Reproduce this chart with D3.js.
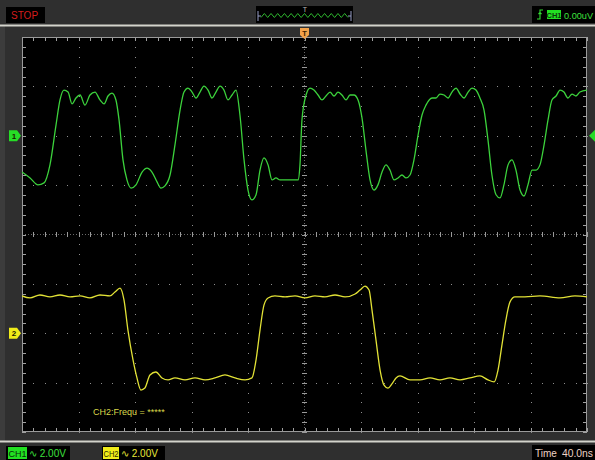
<!DOCTYPE html>
<html>
<head>
<meta charset="utf-8">
<script src="https://cdn.jsdelivr.net/npm/d3@7"></script>
<style>
  body { margin: 0; background: #2e2e2e; }
  svg { display: block; font-family: "Liberation Sans", Arial, sans-serif; }
</style>
</head>
<body>
<svg id="scope" width="595" height="460"></svg>
<script>
// ---- Channel 1 samples: time (ns) and voltage (V) ----
const ch1Time = [-200.0,-194.3,-188.7,-184.4,-180.2,-175.9,-173.1,-170.3,-167.4,-164.6,-161.8,-158.9,-155.4,-151.9,-148.3,-144.8,-141.9,-139.1,-136.3,-133.5,-131.3,-128.5,-125.7,-122.8,-119.3,-115.0,-111.5,-108.0,-104.4,-101.6,-98.8,-95.2,-91.7,-88.1,-85.3,-82.5,-79.6,-76.8,-74.0,-71.2,-68.3,-65.5,-62.7,-59.8,-57.0,-54.2,-51.3,-48.5,-45.7,-42.8,-40.0,-37.2,-34.3,-31.5,-28.7,-25.8,-23.0,-20.2,-17.3,-10.3,-4.6,-3.2,-1.8,1.1,3.9,6.7,9.6,12.4,15.2,18.1,20.9,23.7,26.5,29.4,32.2,35.0,37.9,40.7,43.5,46.4,49.2,52.0,54.9,57.7,60.5,63.4,66.2,69.0,71.9,74.7,77.5,80.4,83.2,86.0,90.3,93.1,95.9,98.8,101.6,104.4,107.3,110.1,112.9,115.8,118.6,121.4,124.2,127.1,129.9,132.7,135.6,138.4,141.2,144.1,146.9,149.7,152.6,155.4,158.2,161.1,163.9,166.7,169.6,172.4,175.2,178.1,180.9,183.7,186.5,189.4,192.2,195.0,200.0];
const ch1Volts = [-1.47,-1.71,-1.99,-1.91,-1.18,0.44,1.45,1.85,1.77,1.29,1.53,1.65,1.24,1.65,1.77,1.45,1.29,1.61,1.73,1.45,0.64,-0.98,-1.79,-2.12,-1.99,-1.47,-1.31,-1.47,-1.87,-2.12,-2.03,-1.59,-0.37,1.04,1.77,1.93,1.77,1.53,1.77,2.01,1.85,1.53,1.77,2.01,1.85,1.45,1.65,1.85,0.84,-0.98,-2.20,-2.60,-2.39,-1.39,-0.90,-1.18,-1.79,-1.71,-1.79,-1.79,-1.79,-1.18,0.64,1.65,1.93,1.85,1.65,1.45,1.61,1.77,1.61,1.77,1.65,1.45,1.65,1.65,1.45,0.72,-0.58,-1.79,-2.20,-1.99,-1.47,-1.18,-1.39,-1.79,-1.71,-1.59,-1.71,-1.59,-0.98,0.03,0.84,1.24,1.53,1.53,1.69,1.65,1.53,1.77,1.93,1.69,1.53,1.77,1.93,1.85,1.53,1.04,-0.17,-1.59,-2.39,-2.52,-1.99,-1.18,-0.98,-1.39,-2.20,-2.44,-1.99,-1.39,-1.39,-1.18,-0.37,0.64,1.45,1.61,1.85,1.77,1.53,1.69,1.61,1.77,1.85];

// ---- Channel 2 samples: time (ns) and voltage (V) ----
const ch2Time = [-200.0,-194.3,-187.3,-180.2,-173.1,-166.0,-158.9,-151.9,-144.8,-137.7,-134.2,-130.6,-127.8,-125.0,-121.4,-118.6,-115.8,-113.0,-109.4,-105.2,-100.9,-96.6,-91.7,-84.6,-77.5,-70.4,-63.4,-56.3,-49.2,-42.1,-37.2,-34.3,-31.5,-28.7,-25.8,-20.9,-13.8,-6.7,0.4,7.4,14.5,21.6,28.7,35.8,39.3,42.8,45.7,47.8,50.6,53.5,56.3,59.1,61.9,64.8,67.6,74.7,81.8,88.9,95.9,103.0,110.1,117.2,124.2,129.9,134.2,137.0,139.8,142.6,145.5,149.0,156.1,166.7,180.9,191.5,200.0];
const ch2Volts = [1.51,1.43,1.55,1.47,1.55,1.47,1.51,1.43,1.55,1.51,1.67,1.83,1.35,0.13,-1.08,-1.81,-2.30,-2.22,-1.69,-1.57,-1.81,-1.89,-1.81,-1.89,-1.81,-1.89,-1.81,-1.69,-1.81,-1.89,-1.81,-1.08,0.13,1.14,1.43,1.51,1.47,1.51,1.43,1.51,1.47,1.55,1.47,1.59,1.75,1.91,1.75,0.94,-0.27,-1.49,-2.10,-2.22,-2.05,-1.81,-1.73,-1.89,-1.89,-1.81,-1.89,-1.81,-1.89,-1.81,-1.73,-1.89,-1.97,-1.49,-0.47,0.54,1.27,1.47,1.47,1.51,1.43,1.51,1.47];

// ---- Display settings ----
const timeDomain = [-200, 200];      // 10 divisions at 40 ns/div
const voltsPerDiv = [2.0, 2.0];      // CH1, CH2
const groundDiv = [2, -2];           // channel ground positions in divisions from centre
const statusTexts = { run: "STOP", trig: "0.00uV", ch1: "2.00V", ch2: "2.00V", time: "40.0ns", freq: "CH2:Frequ = *****" };

const svg = d3.select("#scope");
const W = 595, H = 460;
const plot = { left: 22, right: 587, top: 37, bottom: 432 };

const x = d3.scaleLinear().domain(timeDomain).range([plot.left, plot.right]);
const yDiv = d3.scaleLinear().domain([-4, 4]).range([plot.bottom, plot.top]);
const chanScale = i => d3.scaleLinear()
  .domain([(-4 - groundDiv[i]) * voltsPerDiv[i], (4 - groundDiv[i]) * voltsPerDiv[i]])
  .range([plot.bottom, plot.top]);
const y1 = chanScale(0), y2 = chanScale(1);

// ---- Panel chrome ----
svg.append("rect").attr("width", W).attr("height", H).attr("fill", "#2f2f2f");
svg.append("rect").attr("x", 0).attr("y", 26).attr("width", 5).attr("height", 415).attr("fill", "#3c3c3c");
svg.append("rect").attr("x", 0).attr("y", 24.5).attr("width", W).attr("height", 2).attr("fill", "#d4d4cc");
svg.append("rect").attr("x", 0).attr("y", 440.5).attr("width", W).attr("height", 2).attr("fill", "#d4d4cc");

// top status: STOP
svg.append("rect").attr("x", 6).attr("y", 7).attr("width", 39).attr("height", 16).attr("fill", "#000");
svg.append("text").attr("x", 11).attr("y", 19).attr("fill", "#d41c1c").attr("font-size", 10).text(statusTexts.run);

// top status: memory overview
svg.append("rect").attr("x", 256).attr("y", 6).attr("width", 97).attr("height", 17).attr("fill", "#000");
const ovX0 = 261, ovX1 = 348, ovN = 26;
const zig = d3.range(ovN + 1).map(i => [ovX0 + (ovX1 - ovX0) * i / ovN, i % 2 ? 13.5 : 17.5]);
svg.append("path").attr("d", d3.line()(zig)).attr("fill", "none").attr("stroke", "#2fb82f").attr("stroke-width", 1);
[258, 351].forEach(bx => {
  svg.append("path").attr("d", `M${bx},11V21`).attr("stroke", "#9aa0c8").attr("stroke-width", 1);
  svg.append("path").attr("d", `M${bx},16H${bx + (bx < 300 ? 3 : -3)}`).attr("stroke", "#9aa0c8").attr("stroke-width", 1);
});
svg.append("text").attr("x", 305).attr("y", 12).attr("text-anchor", "middle").attr("fill", "#bbb").attr("font-size", 7).text("T");

// top status: trigger
svg.append("rect").attr("x", 532).attr("y", 6).attr("width", 63).attr("height", 17).attr("fill", "#000");
svg.append("path").attr("d", "M537,19L540,19L540,10L543,10M538.5,14L540,12.5L541.5,14")
  .attr("fill", "none").attr("stroke", "#33dd33").attr("stroke-width", 1.1);
svg.append("rect").attr("x", 547).attr("y", 10).attr("width", 14).attr("height", 9).attr("fill", "#22e022");
svg.append("text").attr("x", 554).attr("y", 17.5).attr("text-anchor", "middle").attr("fill", "#0a3a0a").attr("font-size", 7.5).attr("font-weight", "bold").text("CH1");
svg.append("text").attr("x", 564).attr("y", 19).attr("fill", "#3ee03e").attr("font-size", 9.5)
  .attr("textLength", 29).attr("lengthAdjust", "spacingAndGlyphs").text(statusTexts.trig);

// ---- Graticule ----
svg.append("rect").attr("x", plot.left).attr("y", plot.top)
  .attr("width", plot.right - plot.left).attr("height", plot.bottom - plot.top).attr("fill", "#000");

const g = svg.append("g");
const dotColor = "#8e8e8e";
const minorT = d3.range(timeDomain[0], timeDomain[1] + 0.01, 8);
const minorD = d3.range(-4, 4.01, 0.2);
const majorT = d3.range(-160, 161, 40);
const majorD = d3.range(-3, 4, 1);

// dotted division lines
majorT.filter(t => t !== 0).forEach(t => {
  minorD.forEach(d => g.append("rect").attr("x", Math.round(x(t))).attr("y", Math.round(yDiv(d))).attr("width", 1).attr("height", 1).attr("fill", dotColor));
});
majorD.filter(d => d !== 0).forEach(d => {
  minorT.forEach(t => g.append("rect").attr("x", Math.round(x(t))).attr("y", Math.round(yDiv(d))).attr("width", 1).attr("height", 1).attr("fill", dotColor));
});
// centre axes with minor ticks
g.append("path").attr("d", `M${plot.left},${yDiv(0)}H${plot.right}`).attr("stroke", "#6a6a6a").attr("stroke-width", 1).attr("stroke-dasharray", "1,2");
g.append("path").attr("d", `M${x(0)},${plot.top}V${plot.bottom}`).attr("stroke", "#6a6a6a").attr("stroke-width", 1).attr("stroke-dasharray", "1,2");
minorT.forEach(t => g.append("path").attr("d", `M${Math.round(x(t)) + 0.5},${yDiv(0) - 2.5}v5`).attr("stroke", "#9a9a9a").attr("stroke-width", 1));
minorD.forEach(d => g.append("path").attr("d", `M${x(0) - 2.5},${Math.round(yDiv(d)) + 0.5}h5`).attr("stroke", "#9a9a9a").attr("stroke-width", 1));
// border ticks
minorT.forEach(t => {
  const px = Math.round(x(t)) + 0.5;
  g.append("path").attr("d", `M${px},${plot.top}v4M${px},${plot.bottom}v-4`).attr("stroke", "#a0a0a0").attr("stroke-width", 1);
});
minorD.forEach(d => {
  const py = Math.round(yDiv(d)) + 0.5;
  g.append("path").attr("d", `M${plot.left},${py}h4M${plot.right},${py}h-4`).attr("stroke", "#a0a0a0").attr("stroke-width", 1);
});
g.append("rect").attr("x", plot.left + 0.5).attr("y", plot.top + 0.5)
  .attr("width", plot.right - plot.left - 1).attr("height", plot.bottom - plot.top - 1)
  .attr("fill", "none").attr("stroke", "#9a9a9a").attr("stroke-width", 1);

// ---- Waveforms ----
const clip = svg.append("clipPath").attr("id", "plotClip").append("rect")
  .attr("x", plot.left).attr("y", plot.top).attr("width", plot.right - plot.left).attr("height", plot.bottom - plot.top);
const waves = svg.append("g").attr("clip-path", "url(#plotClip)");
const ch1 = ch1Time.map((t, i) => [t, ch1Volts[i]]);
const ch2 = ch2Time.map((t, i) => [t, ch2Volts[i]]);
waves.append("path").datum(ch1)
  .attr("d", d3.line().x(d => x(d[0])).y(d => y1(d[1])).curve(d3.curveMonotoneX))
  .attr("fill", "none").attr("stroke", "#3cd23c").attr("stroke-width", 1.3);
waves.append("path").datum(ch2)
  .attr("d", d3.line().x(d => x(d[0])).y(d => y2(d[1])).curve(d3.curveMonotoneX))
  .attr("fill", "none").attr("stroke", "#e2e236").attr("stroke-width", 1.3);

svg.append("text").attr("x", 93).attr("y", 415).attr("fill", "#d8d84a").attr("font-size", 9).text(statusTexts.freq);

// ---- Markers ----
const trigX = x(0);
svg.append("path").attr("d", `M${trigX - 4.5},28H${trigX + 4.5}V35L${trigX},39L${trigX - 4.5},35Z`).attr("fill", "#f2a24a");
svg.append("text").attr("x", trigX).attr("y", 35.5).attr("text-anchor", "middle").attr("fill", "#3a2000").attr("font-size", 7.5).attr("font-weight", "bold").text("T");

const marker = (yPos, fill, label) => {
  svg.append("path").attr("d", `M9,${yPos - 5.5}H17L21,${yPos}L17,${yPos + 5.5}H9Z`).attr("fill", fill);
  svg.append("text").attr("x", 14).attr("y", yPos + 3).attr("text-anchor", "middle").attr("fill", "#1a1a00").attr("font-size", 8).attr("font-weight", "bold").text(label);
};
marker(y1(0), "#26dc26", "1");
marker(y2(0), "#f0ec1a", "2");
svg.append("path").attr("d", `M589,${y1(0)}L595,${y1(0) - 6}V${y1(0) + 6}Z`).attr("fill", "#26dc26");

// ---- Bottom status ----
svg.append("rect").attr("x", 6).attr("y", 446).attr("width", 64).attr("height", 14).attr("fill", "#000");
svg.append("rect").attr("x", 8).attr("y", 447).attr("width", 19).attr("height", 12).attr("fill", "#22e022");
svg.append("text").attr("x", 8.5).attr("y", 457).attr("fill", "#0a2a0a").attr("font-size", 9.5)
  .attr("textLength", 18).attr("lengthAdjust", "spacingAndGlyphs").text("CH1");
svg.append("text").attr("x", 29).attr("y", 457).attr("fill", "#3ee03e").attr("font-size", 10).text("\u223F " + statusTexts.ch1);

svg.append("rect").attr("x", 102).attr("y", 446).attr("width", 63).attr("height", 14).attr("fill", "#000");
svg.append("rect").attr("x", 103).attr("y", 447).attr("width", 16).attr("height", 12).attr("fill", "#f0ec1a");
svg.append("text").attr("x", 103.5).attr("y", 457).attr("fill", "#2a2a00").attr("font-size", 9.5)
  .attr("textLength", 15).attr("lengthAdjust", "spacingAndGlyphs").text("CH2");
svg.append("text").attr("x", 121).attr("y", 457).attr("fill", "#e8e83a").attr("font-size", 10).text("\u223F " + statusTexts.ch2);

svg.append("rect").attr("x", 532).attr("y", 445).attr("width", 63).attr("height", 15).attr("fill", "#000");
svg.append("text").attr("x", 535).attr("y", 457).attr("fill", "#ecd2c4").attr("font-size", 10).text("Time");
svg.append("text").attr("x", 562).attr("y", 457).attr("fill", "#ecd2c4").attr("font-size", 10)
  .attr("textLength", 31).attr("lengthAdjust", "spacingAndGlyphs").text(statusTexts.time);
</script>
</body>
</html>
